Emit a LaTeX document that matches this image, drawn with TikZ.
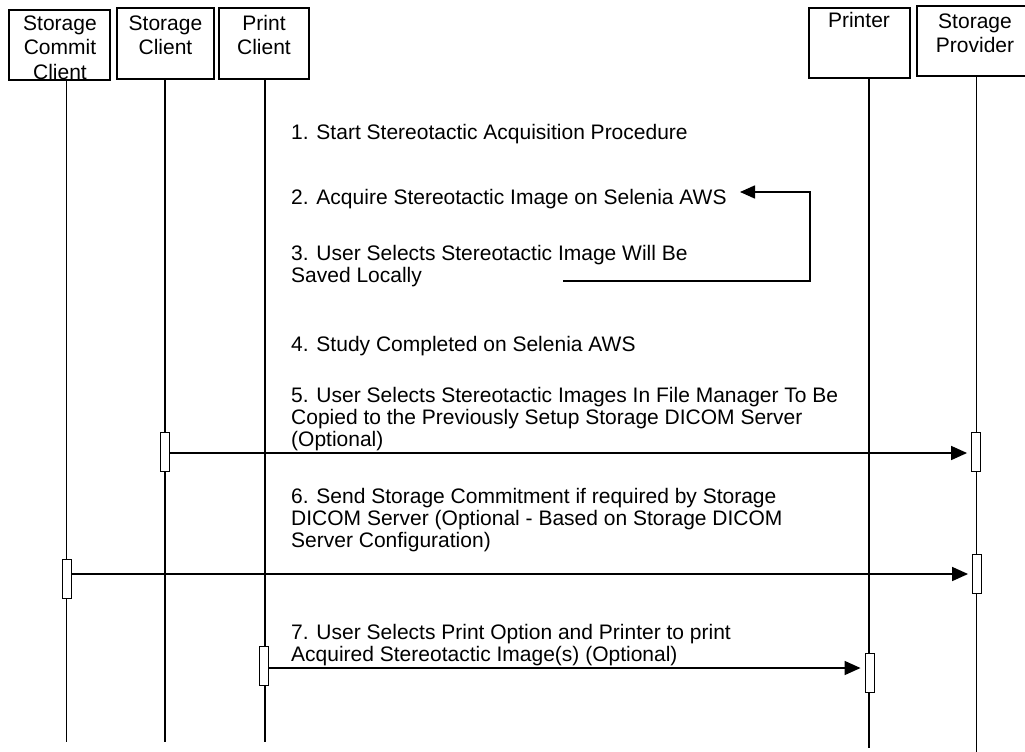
\documentclass[tikz,border=0pt]{standalone}
\usepackage{fontspec}
\setmainfont{Liberation Sans}
\usetikzlibrary{arrows.meta}
\begin{document}
\begin{tikzpicture}[x=1pt,y=-1pt,
  lifebox/.style={draw,line width=1.6pt,rectangle,inner sep=0pt},
  boxlabel/.style={anchor=base,align=center,inner sep=0pt,font=\fontsize{21}{24.5}\selectfont},
  steptext/.style={anchor=base west,align=left,inner sep=0pt,font=\fontsize{21}{22}\selectfont},
  lifeline/.style={line width=1.6pt},
  act/.style={draw,line width=0.9pt,fill=white,inner sep=0pt,minimum width=9pt,minimum height=39pt},
  msg/.style={line width=1.6pt,-{Triangle[length=16pt,width=14pt]},shorten >=4pt},
]
\useasboundingbox (0,0) rectangle (1025,752);
\clip (0,0) rectangle (1025,752);
% header boxes
\node[lifebox,minimum width=101pt,minimum height=70pt] (b1) at (59.5,45) {};
\node[lifebox,minimum width=97pt,minimum height=71pt] (b2) at (165.5,43.5) {};
\node[lifebox,minimum width=90pt,minimum height=71pt] (b3) at (264,43.5) {};
\node[lifebox,minimum width=101pt,minimum height=70pt] (b4) at (859.5,43) {};
\node[lifebox,minimum width=112pt,minimum height=70pt] (b5) at (973,41) {};
% (base anchor of a multi-line node = baseline of its last line)
\node[boxlabel] (l1) at (60,79) {Storage\\Commit\\Client};
\node[boxlabel] (l2) at (165.5,54.5) {Storage\\Client};
\node[boxlabel] (l3) at (264,54.5) {Print\\Client};
\node[boxlabel] (l4) at (859,28) {Printer};
\node[boxlabel] (l5) at (975,52.5) {Storage\\Provider};
% lifelines
\coordinate (t1) at (66.5,80); \coordinate (e1) at (66.5,742);
\coordinate (t2) at (165,79); \coordinate (e2) at (165,742);
\coordinate (t3) at (265,79); \coordinate (e3) at (265,742);
\coordinate (t4) at (869,78); \coordinate (e4) at (869,748);
\coordinate (t5) at (976.5,76); \coordinate (e5) at (976.5,752);
\draw[lifeline] (t1) -- (e1);
\draw[lifeline] (t2) -- (e2);
\draw[lifeline] (t3) -- (e3);
\draw[lifeline] (t4) -- (e4);
\draw[lifeline] (t5) -- (e5);
% step texts
\node[steptext] (s1) at (291,139) {1. Start Stereotactic Acquisition Procedure};
\node[steptext] (s2) at (291,204) {2. Acquire Stereotactic Image on Selenia AWS};
\node[steptext] (s3) at (291,282) {3. User Selects Stereotactic Image Will Be\\Saved Locally};
\node[steptext] (s4) at (291,351) {4. Study Completed on Selenia AWS};
\node[steptext] (s5) at (291,446) {5. User Selects Stereotactic Images In File Manager To Be\\Copied to the Previously Setup Storage DICOM Server\\(Optional)};
\node[steptext] (s6) at (291,547) {6. Send Storage Commitment if required by Storage\\DICOM Server (Optional - Based on Storage DICOM\\Server Configuration)};
\node[steptext] (s7) at (291,661) {7. User Selects Print Option and Printer to print\\Acquired Stereotactic Image(s) (Optional)};
% loop arrow 3 -> 2
\coordinate (lpstart) at (563,281);
\coordinate (lpcorner1) at (810,281);
\coordinate (lpcorner2) at (810,192);
\coordinate (lpend) at (740,192);
\draw[line width=1.6pt,-{Triangle[length=15pt,width=13pt]}] (lpstart) -- (lpcorner1) -- (lpcorner2) -- (lpend);
% activations
\node[act] (a1) at (165,451.5) {};
\node[act] (a2) at (976,451.5) {};
\node[act] (a3) at (66.5,579) {};
\node[act] (a4) at (977,573.5) {};
\node[act] (a5) at (264,665.5) {};
\node[act] (a6) at (869.5,672.5) {};
% messages
\draw[msg] (a1.east |- 0,453) -- (a2.west |- 0,453);
\draw[msg] (a3.east |- 0,574) -- (a4.west |- 0,574);
\draw[msg] (a5.east |- 0,668) -- (a6.west |- 0,668);
\end{tikzpicture}
\end{document}
